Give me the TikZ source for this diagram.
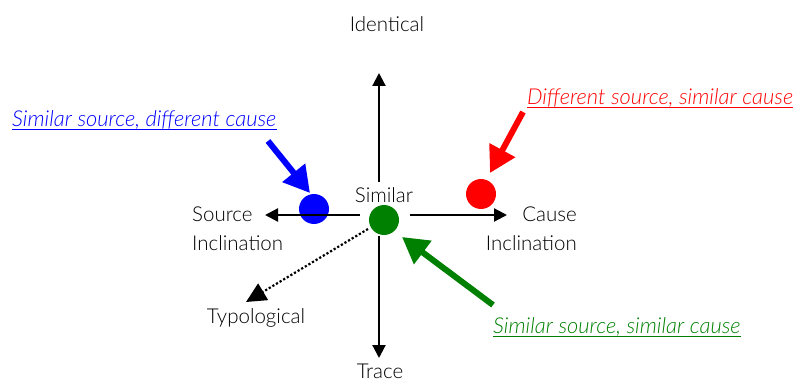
\documentclass[tikz,border=0pt]{standalone}
\usepackage{fontspec}
\setmainfont{Lato Light}
\usetikzlibrary{arrows.meta}
\definecolor{dgreen}{RGB}{0,128,0}
\begin{document}
\begin{tikzpicture}[x=1pt,y=-1pt,
  lbl/.style={font=\fontsize{20.5}{28}\selectfont, inner sep=0pt},
  ilbl/.style={font=\fontsize{21.9}{24}\selectfont\itshape, inner sep=0pt, anchor=base west},
  axis/.style={line width=2.2pt, -{Triangle[length=13pt,width=13pt]}},
  callout/.style={line width=6pt, -{Triangle[length=26pt,width=28pt]}},
  dot/.style={circle, inner sep=0pt, minimum size=30pt}]
\useasboundingbox (0,0) rectangle (794,379);
% dots
\node[dot, fill=blue] (b) at (314,209) {};
\node[dot, fill=red] (r) at (481,194) {};
\node[dot, fill=dgreen] (g) at (384,220) {};
% labels
\node[lbl, anchor=base] (sim) at (384,203) {Similar};
\node[lbl, anchor=base] (ident) at (387,32) {Identical};
\node[lbl, anchor=base west] (src1) at (192,222) {Source};
\node[lbl, anchor=base west] (src2) at (192,250) {Inclination};
\node[lbl, anchor=base east] (cause1) at (577,222) {Cause};
\node[lbl, anchor=base east] (cause2) at (577,250) {Inclination};
\node[lbl, anchor=base] (typ) at (256,323) {Typological};
\node[lbl, anchor=base] (trace) at (380,378) {Trace};
% axis endpoints
\coordinate (cl) at (360,215);
\coordinate (cr) at (410,215);
\coordinate (ct) at (379,182);
\coordinate (cb) at (379,236);
\coordinate (ltip) at (265,215);
\coordinate (rtip) at (507,215);
\coordinate (ttip) at (379,73);
\coordinate (btip) at (379,358);
\coordinate (dstart) at (368,229);
\coordinate (dtip) at (246,302);
\draw[axis] (cl) -- (ltip);
\draw[axis] (cr) -- (rtip);
\draw[axis] (ct) -- (ttip);
\draw[axis] (cb) -- (btip);
\draw[line width=2.2pt, dash pattern=on 2.2pt off 2pt, -{Triangle[length=20pt,width=19pt]}] (dstart) -- (dtip);
% callout labels
\node[ilbl, text=blue] (bl) at (12,127) {Similar source, different cause};
\draw[blue, line width=1pt] ([yshift=-3pt]bl.base west) -- ([yshift=-3pt]bl.base east);
\node[ilbl, text=red] (rl) at (527,105) {Different source, similar cause};
\draw[red, line width=1pt] ([yshift=-3pt]rl.base west) -- ([yshift=-3pt]rl.base east);
\node[ilbl, text=dgreen] (gl) at (493,333) {Similar source, similar cause};
\draw[dgreen, line width=1pt] ([yshift=-3pt]gl.base west) -- ([yshift=-3pt]gl.base east);
% callout arrows
\coordinate (bs) at (268,141);
\coordinate (bt) at (310,193);
\coordinate (rs) at (523,112);
\coordinate (rt) at (490,173);
\coordinate (gs) at (493,305);
\coordinate (gt) at (402,237);
\draw[callout, blue] (bs) -- (bt);
\draw[callout, red] (rs) -- (rt);
\draw[callout, dgreen] (gs) -- (gt);
\end{tikzpicture}
\end{document}
